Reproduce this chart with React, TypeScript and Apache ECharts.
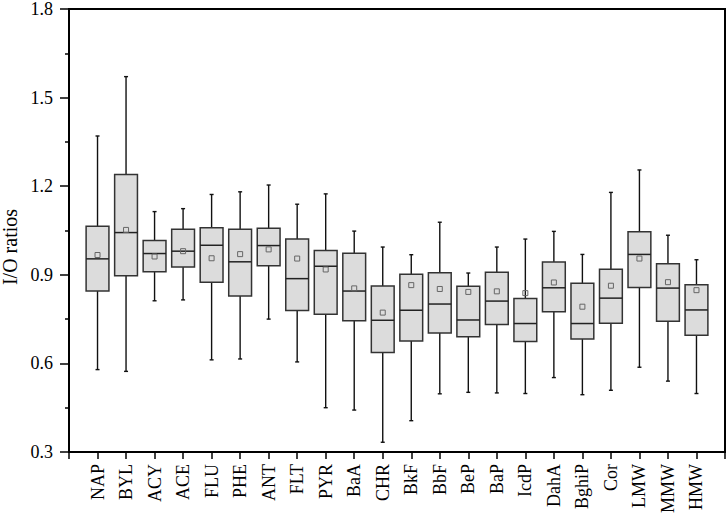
import React, { useEffect, useRef } from "react";
import * as echarts from "echarts";

const categories = ["NAP", "BYL", "ACY", "ACE", "FLU", "PHE", "ANT", "FLT", "PYR", "BaA", "CHR", "BkF", "BbF", "BeP", "BaP", "IcdP", "DahA", "BghiP", "Cor", "LMW", "MMW", "HMW"];
const whiskerHigh = [1.370, 1.571, 1.114, 1.124, 1.172, 1.181, 1.204, 1.139, 1.174, 1.048, 0.994, 0.968, 1.078, 0.906, 0.994, 1.021, 1.047, 0.969, 1.179, 1.255, 1.034, 0.951];
const q3 = [1.064, 1.240, 1.016, 1.054, 1.059, 1.054, 1.058, 1.021, 0.982, 0.973, 0.862, 0.902, 0.907, 0.861, 0.909, 0.820, 0.943, 0.871, 0.919, 1.046, 0.937, 0.866];
const median = [0.954, 1.043, 0.972, 0.980, 1.000, 0.944, 0.999, 0.887, 0.929, 0.845, 0.746, 0.780, 0.801, 0.747, 0.811, 0.735, 0.856, 0.735, 0.821, 0.969, 0.855, 0.781];
const q1 = [0.845, 0.897, 0.910, 0.926, 0.875, 0.828, 0.931, 0.779, 0.766, 0.744, 0.637, 0.676, 0.703, 0.690, 0.732, 0.674, 0.775, 0.683, 0.736, 0.857, 0.743, 0.695];
const whiskerLow = [0.579, 0.573, 0.812, 0.815, 0.612, 0.615, 0.750, 0.605, 0.450, 0.442, 0.333, 0.406, 0.497, 0.502, 0.500, 0.498, 0.552, 0.494, 0.509, 0.587, 0.540, 0.498];
const mean = [0.967, 1.052, 0.962, 0.980, 0.956, 0.970, 0.986, 0.955, 0.918, 0.854, 0.772, 0.865, 0.852, 0.842, 0.844, 0.838, 0.874, 0.792, 0.863, 0.955, 0.875, 0.848];
const yTicks = [0.3, 0.6, 0.9, 1.2, 1.5, 1.8];
const yTitle = "I/O ratios";

const FONT = "'Liberation Serif', 'Times New Roman', Times, serif";

export default function App() {
  const ref = useRef<HTMLDivElement>(null);
  useEffect(() => {
    if (!ref.current) return;
    const chart = echarts.init(ref.current, null, { renderer: "svg" });
    const data = categories.map((c, i) => [i + 1, whiskerLow[i], q1[i], median[i], q3[i], whiskerHigh[i], mean[i]]);
    const renderItem = (params: any, api: any) => {
      const x = api.value(0);
      const lo = api.coord([x, api.value(1)]);
      const b1 = api.coord([x, api.value(2)]);
      const md = api.coord([x, api.value(3)]);
      const b3 = api.coord([x, api.value(4)]);
      const hi = api.coord([x, api.value(5)]);
      const mn = api.coord([x, api.value(6)]);
      const bw = api.size([1, 0])[0] * 0.8;
      const cx = lo[0];
      const cap = 2;
      const lineStyle = { stroke: "#111", lineWidth: 1.4 };
      return {
        type: "group",
        children: [
          { type: "line", shape: { x1: cx, y1: hi[1], x2: cx, y2: b3[1] }, style: lineStyle },
          { type: "line", shape: { x1: cx, y1: b1[1], x2: cx, y2: lo[1] }, style: lineStyle },
          { type: "line", shape: { x1: cx - cap, y1: hi[1], x2: cx + cap, y2: hi[1] }, style: lineStyle },
          { type: "line", shape: { x1: cx - cap, y1: lo[1], x2: cx + cap, y2: lo[1] }, style: lineStyle },
          { type: "rect", shape: { x: cx - bw / 2, y: b3[1], width: bw, height: b1[1] - b3[1] }, style: { fill: "#dcdcdc", stroke: "#333", lineWidth: 1.5 } },
          { type: "line", shape: { x1: cx - bw / 2, y1: md[1], x2: cx + bw / 2, y2: md[1] }, style: { stroke: "#222", lineWidth: 1.5 } },
          { type: "rect", shape: { x: cx - 2.5, y: mn[1] - 2.5, width: 5, height: 5 }, style: { fill: "none", stroke: "#666", lineWidth: 1 } },
        ],
      };
    };
    chart.setOption({
      animation: false,
      textStyle: { fontFamily: FONT },
      grid: { left: 69, right: 2, top: 7, bottom: 64, show: true, borderColor: "#000", borderWidth: 2, backgroundColor: "transparent" },
      graphic: [
        {
          type: "text",
          x: 10,
          y: 247,
          rotation: Math.PI / 2,
          style: {
            text: yTitle,
            fontFamily: FONT,
            fontSize: 20,
            fill: "#000",
            align: "center",
            verticalAlign: "middle",
          },
        },
      ],
      xAxis: {
        type: "value",
        min: 0,
        max: 23,
        interval: 1,
        splitLine: { show: false },
        axisLine: { show: true, lineStyle: { color: "#000", width: 2 } },
        axisTick: { show: true, inside: false, length: 7, lineStyle: { color: "#000", width: 1.5 } },
        axisLabel: {
          rotate: 90,
          margin: 12,
          fontFamily: FONT,
          fontSize: 18,
          color: "#000",
          formatter: (v: number) => categories[Math.round(v) - 1] ?? "",
        },
      },
      yAxis: {
        type: "value",
        min: yTicks[0],
        max: yTicks[yTicks.length - 1],
        interval: 0.3,
        splitLine: { show: false },
        axisLine: { show: true, lineStyle: { color: "#000", width: 2 } },
        axisTick: { show: true, inside: false, length: 9, lineStyle: { color: "#000", width: 1.5 } },
        minorTick: { show: true, splitNumber: 2, length: 4, lineStyle: { color: "#000", width: 1.5 } },
        axisLabel: {
          margin: 16,
          fontFamily: FONT,
          fontSize: 18,
          color: "#000",
          formatter: (v: number) => v.toFixed(1),
        },
      },
      series: [
        {
          type: "custom",
          renderItem,
          data,
          encode: { x: 0, y: [1, 2, 3, 4, 5, 6] },
          clip: false,
        },
      ],
    });
    return () => chart.dispose();
  }, []);
  return <div ref={ref} style={{ width: 727, height: 516, position: "absolute", left: 0, top: 0 }} />;
}
